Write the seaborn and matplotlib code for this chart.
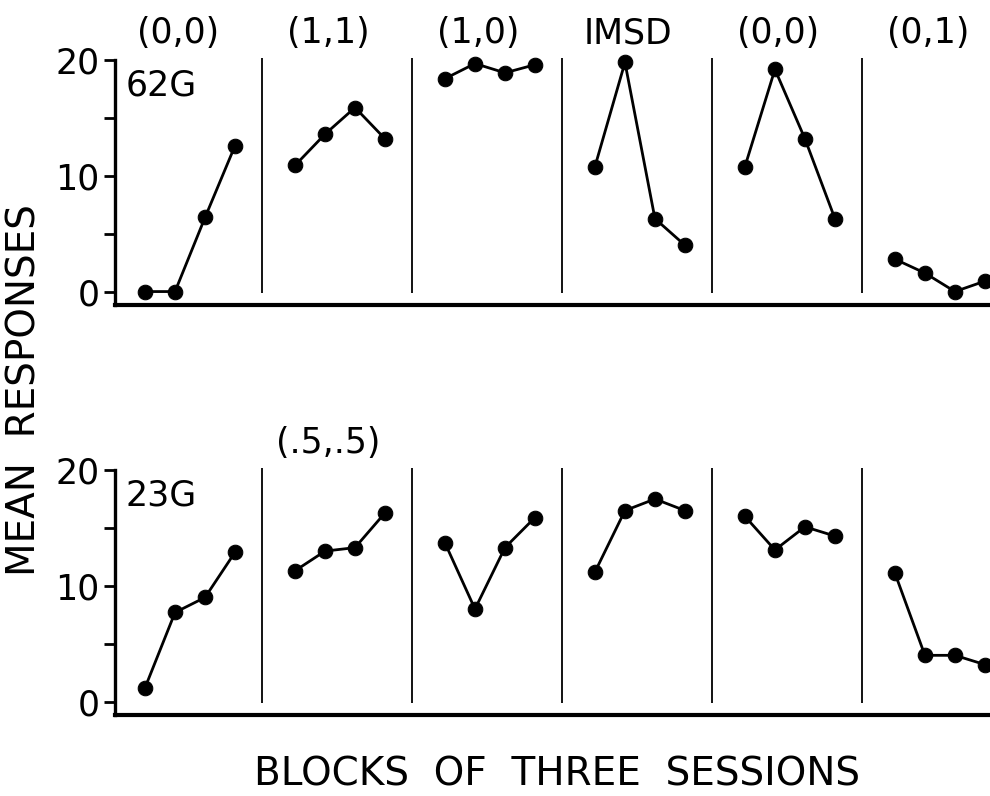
import matplotlib
matplotlib.use("Agg")
import matplotlib.pyplot as plt
import seaborn as sns
import pandas as pd
import numpy as np

sns.set_theme(style="white")
plt.rcParams['font.family'] = ['DejaVu Sans']

phases_top = ["(0,0)", "(1,1)", "(1,0)", "IMSD", "(0,0)", "(0,1)"]
phases_bottom = ["", "(.5,.5)", "", "", "", ""]
blocks = [1, 2, 3, 4]

g62 = [
    [0.0, 0.0, 6.4, 12.6],
    [10.9, 13.6, 15.9, 13.2],
    [18.4, 19.7, 18.9, 19.6],
    [10.8, 19.8, 6.3, 4.0],
    [10.8, 19.2, 13.2, 6.3],
    [2.8, 1.6, 0.0, 0.9],
]
g23 = [
    [1.2, 7.7, 9.0, 12.9],
    [11.3, 13.0, 13.3, 16.3],
    [13.7, 8.0, 13.3, 15.9],
    [11.2, 16.5, 17.5, 16.5],
    [16.0, 13.1, 15.1, 14.3],
    [11.1, 4.0, 4.0, 3.2],
]
subjects = ["62G", "23G"]
yticks = [0, 5, 10, 15, 20]
yticklabels = ["0", "", "10", "", "20"]

rows = []
for subj, data in zip(subjects, [g62, g23]):
    for p, vals in enumerate(data):
        for b, v in zip(blocks, vals):
            rows.append(dict(subject=subj, phase=p, block=b, value=v, x=5 * p + b + 0.1))
df = pd.DataFrame(rows)

fig = plt.figure(figsize=(9.9, 7.96), dpi=100)
ax_top = fig.add_axes([0.1162, 0.617, 0.8838, 0.3075])
ax_bot = fig.add_axes([0.1162, 0.1018, 0.8838, 0.3077])

for ax, subj, labels in [(ax_top, "62G", phases_top), (ax_bot, "23G", phases_bottom)]:
    sub = df[df.subject == subj]
    sns.lineplot(data=sub, x="x", y="value", units="phase", estimator=None,
                 color="black", marker="o", markersize=10.5, markeredgecolor="black",
                 markerfacecolor="black", linewidth=2.0, ax=ax, legend=False)
    for line in ax.lines:
        line.set_clip_on(False)
    ax.set_xlim(0.1, 29.27)
    ax.set_ylim(-1.15, 20)
    for k in range(1, 6):
        ax.vlines(5 * k, -0.1, 20.2, color="black", linewidth=1.3, clip_on=False)
    for k, lab in enumerate(labels):
        if lab:
            ax.text(5 * k + 2.2, 1.04, lab, transform=ax.get_xaxis_transform(),
                    ha="center", va="bottom", fontsize=25, color="black")
    ax.text(0.45, 19.3, subj, ha="left", va="top", fontsize=25, color="black")
    ax.set_xticks([])
    ax.set_yticks(yticks)
    ax.set_yticklabels(yticklabels, fontsize=25, color="black")
    ax.tick_params(axis="y", direction="out", length=8, width=2, color="black", pad=3, left=True)
    ax.set_xlabel("")
    ax.set_ylabel("")
    for s in ["top", "right"]:
        ax.spines[s].set_visible(False)
    ax.spines["left"].set_color("black")
    ax.spines["left"].set_linewidth(2.4)
    ax.spines["left"].set_bounds(-1.15, 20)
    ax.spines["bottom"].set_color("black")
    ax.spines["bottom"].set_linewidth(3)

fig.text(0.025, 0.51, "MEAN  RESPONSES", rotation=90, ha="center", va="center",
         fontsize=28, color="black")
fig.text(0.5626, 0.0275, "BLOCKS  OF  THREE  SESSIONS", ha="center", va="center",
         fontsize=28, color="black")

fig.savefig("out.png", dpi=100)
